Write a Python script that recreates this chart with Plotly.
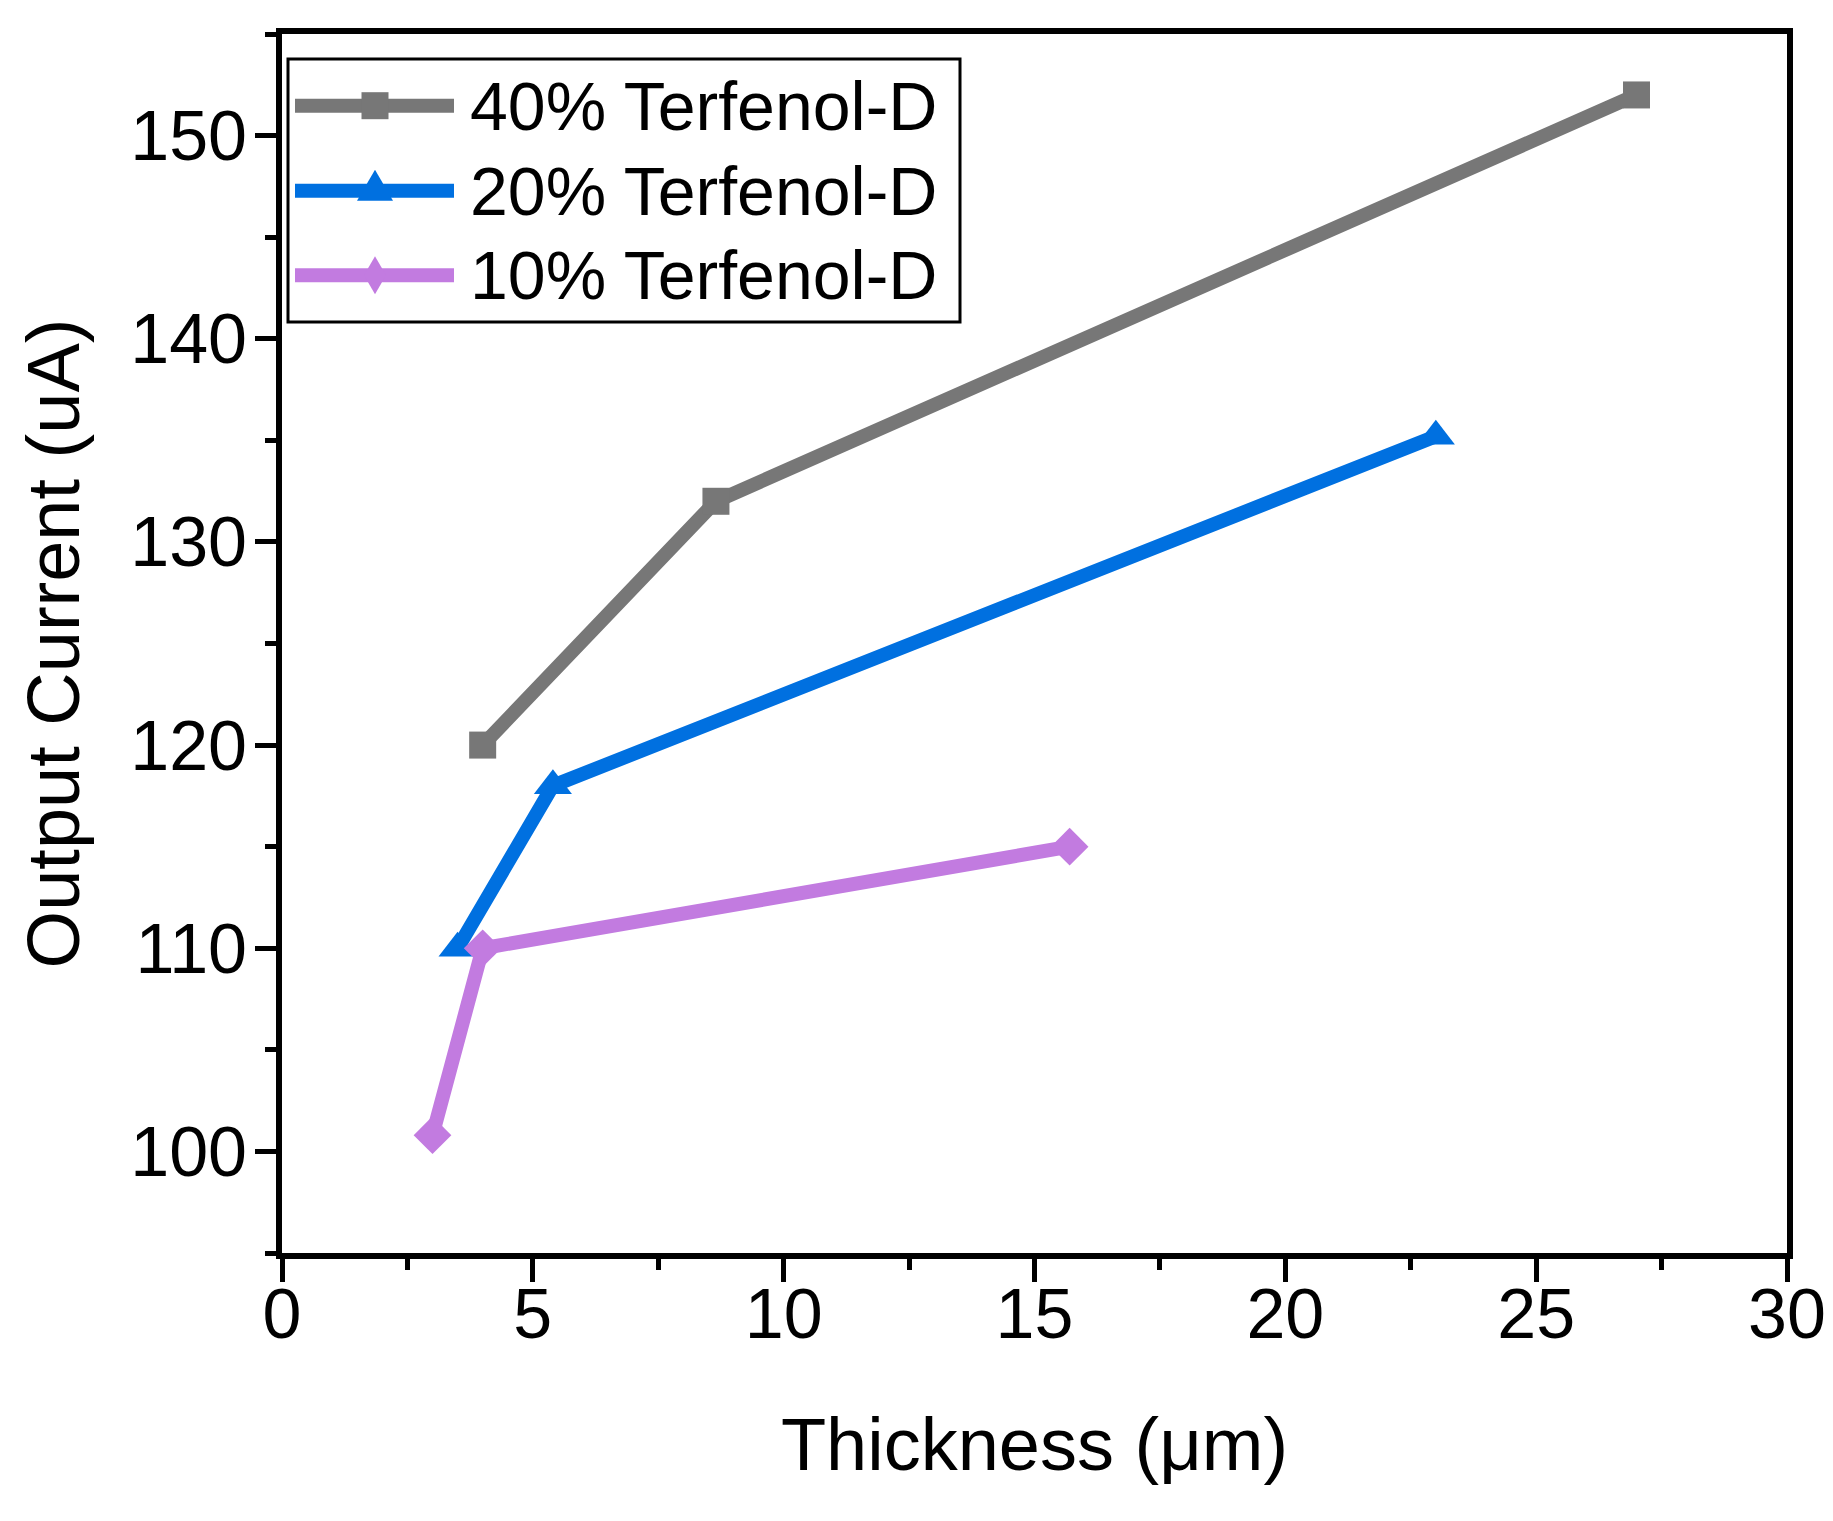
import plotly.graph_objects as go

# ---- data ----
x40 = [4.0, 8.65, 27.0]
y40 = [120.0, 132.0, 152.0]
x20 = [3.5, 5.4, 23.0]
y20 = [110.0, 118.0, 135.2]
x10 = [3.0, 4.0, 15.7]
y10 = [100.8, 110.0, 115.0]

names = ["40% Terfenol-D", "20% Terfenol-D", "10% Terfenol-D"]
colors = ["#777777", "#0070E0", "#C27BE0"]
symbols = ["square", "triangle-up", "diamond"]
msizes = [27, 33, 29]

x_ticks = [0, 5, 10, 15, 20, 25, 30]
y_ticks = [100, 110, 120, 130, 140, 150]

W, H = 1833, 1521
L, R, T, B = 274, 54, 26, 276
PW, PH = W - L - R, H - T - B

FONT = "Liberation Sans, Arial, sans-serif"

fig = go.Figure()
for xs, ys, nm, c, s, ms in zip([x40, x20, x10], [y40, y20, y10], names, colors, symbols, msizes):
    fig.add_trace(go.Scatter(
        x=xs, y=ys, name=nm, mode="lines+markers",
        line=dict(color=c, width=14),
        marker=dict(symbol=s, size=ms, color=c, line=dict(width=0)),
        showlegend=False,
    ))

def px2x(p):
    return (p - L) / PW

def px2y(p):
    return (H - B - p) / PH

shapes = []
annotations = []
# legend box
shapes.append(dict(type="rect", xref="paper", yref="paper",
                   x0=px2x(280), x1=px2x(952), y0=px2y(314), y1=px2y(51),
                   line=dict(color="black", width=3), fillcolor="rgba(0,0,0,0)"))
rows = [97.7, 182.7, 267.3]
marker_paths = {
    "square": "M-13.5,-13.5 L13.5,-13.5 L13.5,13.5 L-13.5,13.5 Z",
    "triangle-up": "M-18,-10 L18,-10 L0,21 Z",
    "diamond": "M0,-19 L11,0 L0,19 L-11,0 Z",
}
for ry, nm, c, s in zip(rows, names, colors, symbols):
    yy = px2y(ry)
    shapes.append(dict(type="line", xref="paper", yref="paper",
                       x0=px2x(287), x1=px2x(446), y0=yy, y1=yy,
                       line=dict(color=c, width=14)))
    shapes.append(dict(type="path", xref="paper", yref="paper",
                       xsizemode="pixel", ysizemode="pixel",
                       xanchor=px2x(367), yanchor=yy,
                       path=marker_paths[s], fillcolor=c, line=dict(width=0)))
    annotations.append(dict(xref="paper", yref="paper", x=px2x(460), y=yy,
                            xanchor="left", yanchor="middle", showarrow=False,
                            text=nm, font=dict(family=FONT, size=68, color="black")))

fig.update_layout(
    width=W, height=H,
    margin=dict(l=L, r=R, t=T, b=B, autoexpand=False),
    paper_bgcolor="white", plot_bgcolor="white",
    font=dict(family=FONT, color="black", size=70),
    shapes=shapes, annotations=annotations,
    showlegend=False,
)
fig.update_xaxes(
    range=[0, 30], tickvals=x_ticks, ticktext=[str(v) for v in x_ticks],
    showgrid=False, zeroline=False,
    showline=True, linecolor="black", linewidth=6, mirror=True,
    ticks="outside", ticklen=23, tickwidth=5, tickcolor="black",
    minor=dict(dtick=2.5, tick0=0, ticks="outside", ticklen=11, tickwidth=5, tickcolor="black", showgrid=False),
    tickfont=dict(family=FONT, size=70, color="black"),
    ticklabelstandoff=-28,
    title=dict(text="Thickness (\u03bcm)", font=dict(family=FONT, size=74, color="black"), standoff=68),
    automargin=False,
)
fig.update_yaxes(
    range=[95, 155], tickvals=y_ticks, ticktext=[str(v) for v in y_ticks],
    showgrid=False, zeroline=False,
    showline=True, linecolor="black", linewidth=6, mirror=True,
    ticks="outside", ticklen=21, tickwidth=5, tickcolor="black",
    minor=dict(dtick=5, tick0=95, ticks="outside", ticklen=11, tickwidth=5, tickcolor="black", showgrid=False),
    tickfont=dict(family=FONT, size=70, color="black"),
    ticklabelstandoff=-6,
    title=dict(text="Output Current (uA)", font=dict(family=FONT, size=74, color="black"), standoff=28),
    automargin=False,
)

fig.write_html("out.html")
